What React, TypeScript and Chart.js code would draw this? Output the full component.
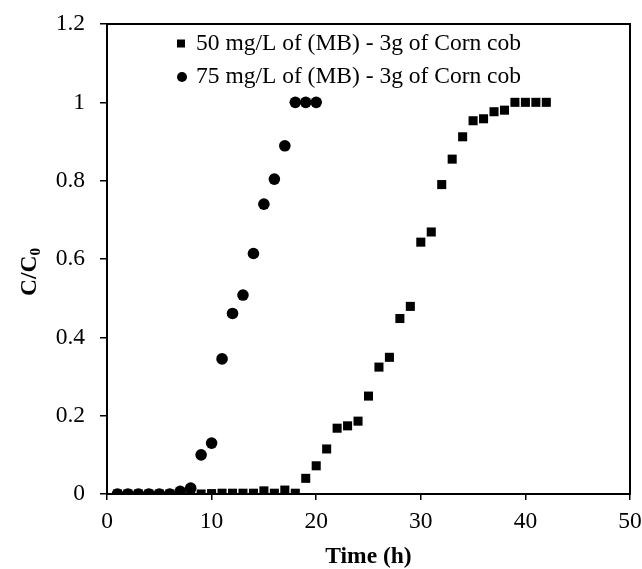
import React, { useEffect, useRef } from "react";
import { Chart, registerables } from "chart.js";

Chart.register(...registerables);

// ---- data ----
const time50 = [
  1, 2, 3, 4, 5, 6, 7, 8, 9, 10, 11, 12, 13, 14, 15, 16, 17, 18, 19, 20, 21,
  22, 23, 24, 25, 26, 27, 28, 29, 30, 31, 32, 33, 34, 35, 36, 37, 38, 39, 40,
  41, 42,
];
const ratio50 = [
  0, 0, 0, 0, 0, 0, 0, 0, 0, 0.001, 0.002, 0.002, 0.002, 0.002, 0.008, 0.002,
  0.01, 0.002, 0.04, 0.072, 0.115, 0.168, 0.174, 0.186, 0.25, 0.324, 0.349,
  0.448, 0.479, 0.643, 0.669, 0.79, 0.855, 0.912, 0.953, 0.958, 0.976, 0.98,
  1, 1, 1, 1,
];
const time75 = [
  1, 2, 3, 4, 5, 6, 7, 8, 9, 10, 11, 12, 13, 14, 15, 16, 17, 18, 19, 20,
];
const ratio75 = [
  0, 0, 0, 0, 0, 0, 0.007, 0.015, 0.1, 0.13, 0.345, 0.461, 0.508, 0.614, 0.74,
  0.804, 0.889, 1, 1, 1,
];
const seriesLabels = [
  "50 mg/L of (MB) - 3g of Corn cob",
  "75 mg/L of (MB) - 3g of Corn cob",
];
const xTickValues = [0, 10, 20, 30, 40, 50];
const yTickValues = [0, 0.2, 0.4, 0.6, 0.8, 1, 1.2];
const xTitle = "Time (h)";
const yTitleMain = "C/C";
const yTitleSub = "0";

const FONT = "'Liberation Serif', 'Times New Roman', serif";
const FS = 23.5;

const framePlugin = {
  id: "frameAndText",
  afterDraw(chart: any) {
    const { ctx, chartArea } = chart;
    const { left, right, top, bottom } = chartArea;
    ctx.save();
    // frame
    ctx.strokeStyle = "#000";
    ctx.lineWidth = 2;
    ctx.strokeRect(left, top, right - left, bottom - top);

    // legend
    const lx = 181;
    const tx = 196;
    const ly = [43.5, 77];
    ctx.fillStyle = "#000";
    ctx.fillRect(lx - 4, ly[0] - 4, 8, 8);
    ctx.beginPath();
    ctx.arc(lx + 1, ly[1], 5, 0, Math.PI * 2);
    ctx.fill();
    ctx.font = `${FS}px ${FONT}`;
    ctx.textAlign = "left";
    ctx.textBaseline = "middle";
    ctx.fillText(seriesLabels[0], tx, ly[0]);
    ctx.fillText(seriesLabels[1], tx, ly[1]);

    // x title
    ctx.font = `bold ${FS}px ${FONT}`;
    ctx.textAlign = "center";
    ctx.textBaseline = "alphabetic";
    ctx.fillText(xTitle, (left + right) / 2, 563);

    // y title with subscript
    ctx.translate(28, 272);
    ctx.rotate(-Math.PI / 2);
    ctx.font = `bold ${FS}px ${FONT}`;
    const wMain = ctx.measureText(yTitleMain).width;
    const subFont = `bold ${FS * 0.65}px ${FONT}`;
    ctx.font = subFont;
    const wSub = ctx.measureText(yTitleSub).width;
    const start = -(wMain + wSub) / 2;
    ctx.textAlign = "left";
    ctx.font = `bold ${FS}px ${FONT}`;
    ctx.fillText(yTitleMain, start, 8);
    ctx.font = subFont;
    ctx.fillText(yTitleSub, start + wMain, 12);
    ctx.restore();
  },
};

export default function App() {
  const ref = useRef<HTMLCanvasElement | null>(null);
  useEffect(() => {
    if (!ref.current) return;
    const chart = new Chart(ref.current, {
      type: "scatter",
      data: {
        datasets: [
          {
            label: seriesLabels[0],
            data: time50.map((t, i) => ({ x: t, y: ratio50[i] })),
            pointStyle: "rect",
            pointRadius: 6.4,
            backgroundColor: "#000",
            borderColor: "#000",
            borderWidth: 0,
            order: 1,
          },
          {
            label: seriesLabels[1],
            data: time75.map((t, i) => ({ x: t, y: ratio75[i] })),
            pointStyle: "circle",
            pointRadius: 5.8,
            backgroundColor: "#000",
            borderColor: "#000",
            borderWidth: 0,
            order: 0,
          },
        ],
      },
      options: {
        responsive: false,
        animation: false,
        layout: { padding: { left: 0, top: 24, right: 12, bottom: 0 } },
        plugins: {
          legend: { display: false },
          tooltip: { enabled: false },
        },
        scales: {
          x: {
            type: "linear",
            min: 0,
            max: 50,
            afterBuildTicks: (s: any) => {
              s.ticks = xTickValues.map((v) => ({ value: v }));
            },
            afterFit: (s: any) => {
              s.height = 75;
              s.paddingLeft = 0;
              s.paddingRight = 0;
            },
            ticks: {
              color: "#000",
              font: { family: FONT, size: FS },
              padding: 8,
              maxRotation: 0,
            },
            grid: {
              drawOnChartArea: false,
              drawTicks: true,
              tickLength: 6,
              color: "#000",
              lineWidth: 1.5,
            },
            border: { display: true, color: "#000", width: 2 },
          },
          y: {
            type: "linear",
            min: 0,
            max: 1.2,
            afterBuildTicks: (s: any) => {
              s.ticks = yTickValues.map((v) => ({ value: v }));
            },
            afterFit: (s: any) => {
              s.width = 107;
              s.paddingTop = 0;
              s.paddingBottom = 0;
            },
            ticks: {
              color: "#000",
              font: { family: FONT, size: FS },
              padding: 15,
              callback: (v: any) => String(+Number(v).toFixed(1)),
            },
            grid: {
              drawOnChartArea: false,
              drawTicks: true,
              tickLength: 7,
              color: "#000",
              lineWidth: 1.5,
            },
            border: { display: true, color: "#000", width: 2 },
          },
        },
      },
      plugins: [framePlugin],
    });
    return () => chart.destroy();
  }, []);
  return (
    <div style={{ position: "absolute", left: 0, top: 0, width: 642, height: 569, background: "#fff" }}>
      <canvas ref={ref} width={642} height={569} />
    </div>
  );
}
